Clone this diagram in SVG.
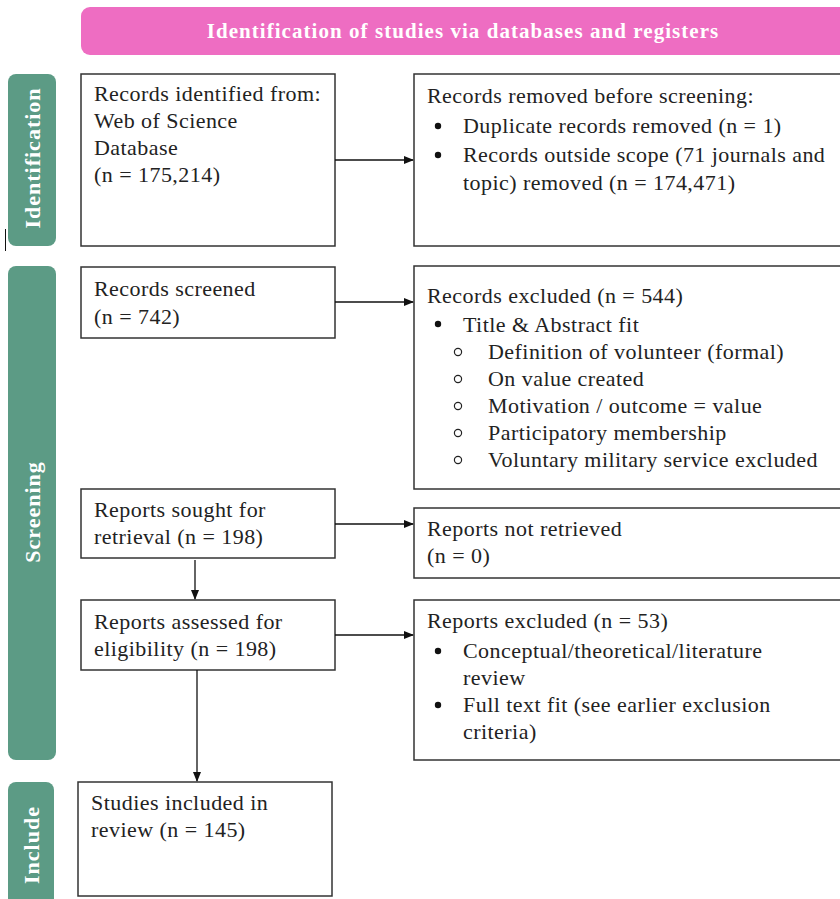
<svg xmlns="http://www.w3.org/2000/svg" width="840" height="899" viewBox="0 0 840 899">
<defs>
<style>
.box{fill:#fff;stroke:#333;stroke-width:1.5}
.side{fill:#5C9B85}
.t{font-family:"Liberation Serif","Times New Roman",serif;font-size:22px;letter-spacing:0.45px;fill:#222}
.st{font-family:"Liberation Serif","Times New Roman",serif;font-size:22px;font-weight:bold;letter-spacing:1px;fill:#fff}
.ln{stroke:#111;stroke-width:1.3;fill:none}
</style>
<marker id="ah" markerWidth="10" markerHeight="10" refX="9" refY="5" orient="auto" markerUnits="userSpaceOnUse">
<path d="M0,1 L10,5 L0,9 Z" fill="#111"/>
</marker>
</defs>
<rect width="840" height="899" fill="#fff"/>

<g id="header">
<rect x="81" y="7" width="780" height="48" rx="9" fill="#EE6DC2"/>
<text class="st" x="463" y="38" text-anchor="middle" style="font-size:21px;letter-spacing:1.05px">Identification of studies via databases and registers</text>
</g>

<g id="side-identification">
<rect class="side" x="8" y="74" width="48" height="172" rx="8"/>
<text class="st" transform="translate(40,158) rotate(-90)" text-anchor="middle">Identification</text>
</g>
<g id="side-screening">
<rect class="side" x="8" y="266" width="48" height="494" rx="8"/>
<text class="st" transform="translate(40,512) rotate(-90)" text-anchor="middle">Screening</text>
</g>
<g id="side-include">
<rect class="side" x="8" y="782" width="46" height="130" rx="8"/>
<text class="st" transform="translate(39,845) rotate(-90)" text-anchor="middle">Include</text>
</g>
<line x1="5.5" y1="229" x2="5.5" y2="251" stroke="#111" stroke-width="1"/>

<g id="n-identified">
<rect class="box" x="81" y="74" width="254" height="172"/>
<text class="t" x="94" y="101">Records identified from:</text>
<text class="t" x="94" y="128">Web of Science</text>
<text class="t" x="94" y="155">Database</text>
<text class="t" x="94" y="182">(n = 175,214)</text>
</g>

<g id="n-removed">
<rect class="box" x="414" y="74" width="440" height="172"/>
<text class="t" x="427" y="103">Records removed before screening:</text>
<circle cx="438" cy="126" r="3.2" fill="#111"/>
<text class="t" x="463" y="133">Duplicate records removed (n = 1)</text>
<circle cx="438" cy="155" r="3.2" fill="#111"/>
<text class="t" x="463" y="162">Records outside scope (71 journals and</text>
<text class="t" x="463" y="190">topic) removed (n = 174,471)</text>
</g>

<g id="n-screened">
<rect class="box" x="81" y="267" width="254" height="71"/>
<text class="t" x="94" y="296">Records screened</text>
<text class="t" x="94" y="324">(n = 742)</text>
</g>

<g id="n-excluded">
<rect class="box" x="414" y="266" width="440" height="223"/>
<text class="t" x="427" y="303">Records excluded (n = 544)</text>
<circle cx="438" cy="324" r="3.2" fill="#111"/>
<text class="t" x="463" y="332">Title &amp; Abstract fit</text>
<g fill="none" stroke="#222" stroke-width="1.2">
<circle cx="458" cy="352" r="3.6"/>
<circle cx="458" cy="379" r="3.6"/>
<circle cx="458" cy="406" r="3.6"/>
<circle cx="458" cy="433" r="3.6"/>
<circle cx="458" cy="460" r="3.6"/>
</g>
<text class="t" x="488" y="359">Definition of volunteer (formal)</text>
<text class="t" x="488" y="386">On value created</text>
<text class="t" x="488" y="413">Motivation / outcome = value</text>
<text class="t" x="488" y="440">Participatory membership</text>
<text class="t" x="488" y="467">Voluntary military service excluded</text>
</g>

<g id="n-sought">
<rect class="box" x="81" y="489" width="254" height="69"/>
<text class="t" x="94" y="517">Reports sought for</text>
<text class="t" x="94" y="544">retrieval (n = 198)</text>
</g>

<g id="n-notretrieved">
<rect class="box" x="414" y="508" width="440" height="70"/>
<text class="t" x="427" y="536">Reports not retrieved</text>
<text class="t" x="427" y="563">(n = 0)</text>
</g>

<g id="n-assessed">
<rect class="box" x="81" y="600" width="254" height="70"/>
<text class="t" x="94" y="629">Reports assessed for</text>
<text class="t" x="94" y="656">eligibility (n = 198)</text>
</g>

<g id="n-repexcluded">
<rect class="box" x="414" y="600" width="440" height="160"/>
<text class="t" x="427" y="628">Reports excluded (n = 53)</text>
<circle cx="438" cy="651" r="3.2" fill="#111"/>
<text class="t" x="463" y="658">Conceptual/theoretical/literature</text>
<text class="t" x="463" y="685">review</text>
<circle cx="438" cy="705" r="3.2" fill="#111"/>
<text class="t" x="463" y="712">Full text fit (see earlier exclusion</text>
<text class="t" x="463" y="739">criteria)</text>
</g>

<g id="n-included">
<rect class="box" x="78" y="782" width="254" height="114"/>
<text class="t" x="91" y="810">Studies included in</text>
<text class="t" x="91" y="837">review (n = 145)</text>
</g>

<g id="connectors">
<line class="ln" x1="335" y1="160" x2="413" y2="160" marker-end="url(#ah)"/>
<line class="ln" x1="335" y1="302" x2="413" y2="302" marker-end="url(#ah)"/>
<line class="ln" x1="335" y1="524" x2="413" y2="524" marker-end="url(#ah)"/>
<line class="ln" x1="335" y1="635" x2="413" y2="635" marker-end="url(#ah)"/>
<line class="ln" x1="195" y1="560" x2="195" y2="599" marker-end="url(#ah)"/>
<line class="ln" x1="197" y1="670" x2="197" y2="781" marker-end="url(#ah)"/>
</g>
</svg>
